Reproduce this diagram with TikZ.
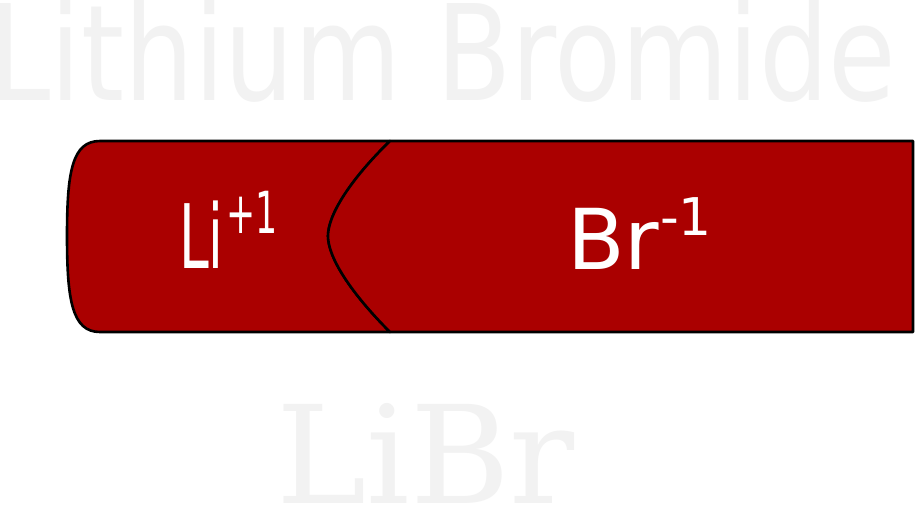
\documentclass[tikz,border=0pt]{standalone}
\usepackage{fontspec}
\setmainfont{DejaVu Sans}
\newfontfamily\serifdv{DejaVu Serif}
\definecolor{ionred}{HTML}{AA0000}
\definecolor{ghost}{HTML}{F2F2F2}
\begin{document}
\begin{tikzpicture}[x=1pt,y=-1pt,
  piece/.style={fill=ionred,draw=black,line width=2.6pt,line join=round},
  ghosttext/.style={text=ghost,anchor=base west,inner sep=0pt},
  iontext/.style={text=white,anchor=base west,inner sep=0pt}]
\useasboundingbox (0,0) rectangle (915,508);
\fill[white] (0,0) rectangle (915,508);
% title texts
\node[ghosttext] (title) at (-10.6,101) {\scalebox{0.826}[1]{\fontsize{133}{133}\selectfont Lithium Bromide}};
\node[ghosttext] (formula) at (276,503) {\fontsize{136}{136}\serifdv LiBr};
% left piece (Li)
\path[piece] (390,141) .. controls (350,180) and (328,215) .. (328,236)
  .. controls (328,257) and (350,292) .. (390,332)
  -- (100,332) .. controls (72,332) and (67,300) .. (67,236)
  .. controls (67,172) and (72,141) .. (100,141) -- cycle;
% right piece (Br)
\path[piece] (390,141) -- (913,141) -- (913,332) -- (390,332)
  .. controls (350,292) and (328,257) .. (328,236)
  .. controls (328,215) and (350,180) .. (390,141) -- cycle;
% ion labels
\node[iontext] (li) at (179,268) {\scalebox{0.6}[1]{\fontsize{89}{89}\selectfont Li}};
\node[iontext] (lisup) at (226,233) {\scalebox{0.6}[1]{\fontsize{58}{58}\selectfont +1}};
\node[iontext] (br) at (567,269) {\fontsize{84}{84}\selectfont Br};
\node[iontext] (brsup) at (660,235) {\fontsize{52}{52}\selectfont -1};
\end{tikzpicture}
\end{document}
